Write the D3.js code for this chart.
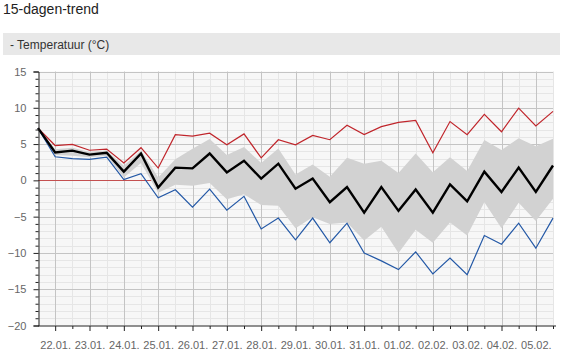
<!DOCTYPE html>
<html><head><meta charset="utf-8">
<script src="https://cdn.jsdelivr.net/npm/d3@7"></script>
<style>
body{margin:0;background:#fff;font-family:"Liberation Sans",Arial,sans-serif;}
</style></head>
<body><svg id="c" width="569" height="358"></svg>
<script>
const titleText = "15-dagen-trend";
const panelText = "- Temperatuur (°C)";
const dayLabels = ["22.01.","23.01.","24.01.","25.01.","26.01.","27.01.","28.01.","29.01.","30.01.","31.01.","01.02.","02.02.","03.02.","04.02.","05.02."];
const yTicks = [-20,-15,-10,-5,0,5,10,15];
const tMax = [7.2,4.8,4.95,4.15,4.3,2.4,4.5,1.7,6.3,6.1,6.5,4.9,6.4,3.1,5.6,4.9,6.2,5.6,7.6,6.3,7.4,8.0,8.25,3.8,8.1,6.3,9.1,6.7,9.95,7.5,9.5];
const tMean = [7.2,3.85,4.1,3.55,3.8,1.2,3.7,-1.0,1.75,1.65,3.7,1.1,2.7,0.25,2.3,-1.15,0.25,-3.0,-0.93,-4.45,-0.93,-4.2,-1.25,-4.45,-0.55,-2.9,1.2,-1.6,1.75,-1.6,2.05];
const tMin = [7.2,3.25,3.0,2.9,3.2,0.1,0.93,-2.4,-1.3,-3.7,-1.2,-4.1,-2.2,-6.7,-5.2,-8.2,-5.2,-8.6,-5.9,-10.0,-11.1,-12.3,-9.85,-12.9,-10.7,-13.0,-7.6,-8.8,-5.9,-9.35,-5.2];
const bandHigh = [7.2,4.3,4.5,3.9,4.1,2.0,4.1,0.4,2.9,4.35,5.7,3.5,4.6,2.4,4.4,0.8,2.2,0.5,3.1,2.3,2.7,1.0,3.7,1.1,3.2,1.3,5.55,4.2,5.8,4.7,5.75];
const bandLow = [7.2,3.5,3.4,3.2,3.4,0.4,2.4,-1.7,-0.6,-0.75,-0.35,-2.6,-1.9,-3.4,-3.5,-6.6,-5.1,-6.0,-5.8,-8.3,-6.4,-10.0,-6.8,-8.6,-5.8,-7.6,-3.0,-6.6,-3.1,-5.6,-2.55];

const svg = d3.select("#c");
const L = 38, R = 553, T = 71.5, B = 325.5;
const n = tMean.length;
const x = d3.scaleLinear().domain([0, n-1]).range([L, R]);
const y = d3.scaleLinear().domain([-20, 15]).range([B, T]);

// title
svg.append("text").attr("x",3).attr("y",13.5).attr("font-size",14).attr("fill","#222").text(titleText);
svg.append("rect").attr("x",3).attr("y",33).attr("width",557).attr("height",22).attr("fill","#e8e8e8");
svg.append("text").attr("x",10).attr("y",49).attr("font-size",12).attr("fill","#333").text(panelText);

// plot bg
svg.append("rect").attr("x",L).attr("y",T).attr("width",R-L).attr("height",B-T).attr("fill","#f7f7f7");

const g = svg.append("g");
const minorY = d3.range(-19, 15).filter(v => v % 5 !== 0);
const majorY = yTicks.filter(v => v > -20);
const halfIdx = d3.range(0, n);
const dayIdx = dayLabels.map((d,i) => 2*i+1);
const minorX = halfIdx.filter(i => i % 2 === 0 && i > 0);

g.selectAll(".hm").data(minorY).join("line")
  .attr("x1",L).attr("x2",R).attr("y1",d=>Math.round(y(d))+0.5).attr("y2",d=>Math.round(y(d))+0.5)
  .attr("stroke","#e6e6e6");
g.selectAll(".vm").data(minorX).join("line")
  .attr("y1",T).attr("y2",B).attr("x1",d=>Math.round(x(d))+0.5).attr("x2",d=>Math.round(x(d))+0.5)
  .attr("stroke","#e6e6e6");
g.selectAll(".hM").data(majorY).join("line")
  .attr("x1",L).attr("x2",R).attr("y1",d=>Math.round(y(d))+0.5).attr("y2",d=>Math.round(y(d))+0.5)
  .attr("stroke","#c4c4c4");
g.selectAll(".vM").data(dayIdx).join("line")
  .attr("y1",T).attr("y2",B).attr("x1",d=>Math.round(x(d))+0.5).attr("x2",d=>Math.round(x(d))+0.5)
  .attr("stroke","#c4c4c4");

// zero line
svg.append("line").attr("x1",L).attr("x2",R).attr("y1",Math.round(y(0))+0.5).attr("y2",Math.round(y(0))+0.5)
  .attr("stroke","#c45050").attr("stroke-width",1);

// band
const area = d3.area().x((d,i)=>x(i)).y0((d,i)=>y(bandLow[i])).y1((d,i)=>y(bandHigh[i]));
svg.append("path").datum(bandHigh).attr("d",area).attr("fill","#d2d2d2");

const line = d3.line().x((d,i)=>x(i)).y(d=>y(d));
svg.append("path").datum(tMax).attr("d",line).attr("fill","none").attr("stroke","#c0252b").attr("stroke-width",1.2);
svg.append("path").datum(tMin).attr("d",line).attr("fill","none").attr("stroke","#2358a6").attr("stroke-width",1.2);
svg.append("path").datum(tMean).attr("d",line).attr("fill","none").attr("stroke","#000").attr("stroke-width",2.4).attr("stroke-linejoin","miter");

// y axis
const yAxis = svg.append("g").attr("transform",`translate(${L+0.5},0)`)
  .call(d3.axisLeft(y).tickValues(yTicks).tickSize(5).tickPadding(7).tickFormat(d3.format("d")));
yAxis.select(".domain").attr("stroke","#222");
yAxis.selectAll(".tick line").attr("stroke","#222");
yAxis.selectAll("text").attr("font-size",11).attr("fill","#666").attr("font-family","Liberation Sans, Arial, sans-serif");
svg.append("g").attr("transform",`translate(${L+0.5},0)`)
  .call(d3.axisLeft(y).tickValues(minorY.concat([-19,-18,-17,-16].filter(v=>!minorY.includes(v)))).tickSize(3).tickFormat(""))
  .call(s=>{s.select(".domain").remove(); s.selectAll("line").attr("stroke","#222");});

// x axis
const xAxis = svg.append("g").attr("transform",`translate(0,${B+0.5})`)
  .call(d3.axisBottom(x).tickValues(dayIdx).tickSize(5).tickPadding(10).tickFormat((d,i)=>dayLabels[i]));
xAxis.select(".domain").attr("stroke","#222").attr("d",`M${L},0H${R+3}`);
xAxis.selectAll(".tick line").attr("stroke","#222");
xAxis.selectAll("text").attr("font-size",11).attr("fill","#666").attr("font-family","Liberation Sans, Arial, sans-serif");
svg.append("g").attr("transform",`translate(0,${B+0.5})`)
  .call(d3.axisBottom(x).tickValues(minorX).tickSize(3).tickFormat(""))
  .call(s=>{s.select(".domain").remove(); s.selectAll("line").attr("stroke","#222");});
</script></body></html>
